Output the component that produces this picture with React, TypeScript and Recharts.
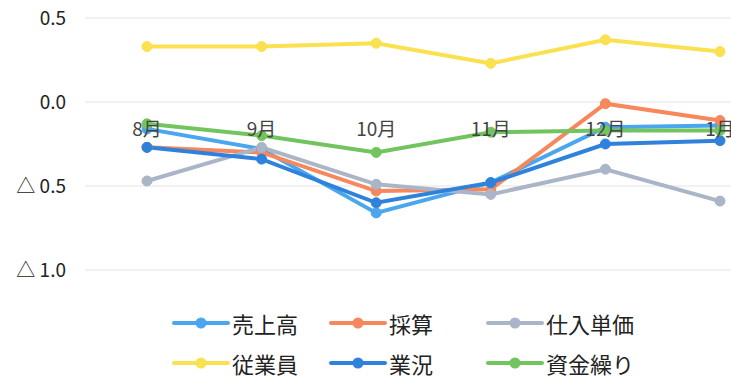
import React from 'react';
import { LineChart, Line, XAxis, YAxis, CartesianGrid, ReferenceDot } from 'recharts';

const months = ['8月', '9月', '10月', '11月', '12月', '1月'];

const uriage = [-0.16, -0.28, -0.66, -0.48, -0.15, -0.14];
const saisan = [-0.27, -0.30, -0.53, -0.52, -0.01, -0.11];
const shiire = [-0.47, -0.27, -0.49, -0.55, -0.40, -0.59];
const jugyoin = [0.33, 0.33, 0.35, 0.23, 0.37, 0.30];
const gyokyo = [-0.27, -0.34, -0.60, -0.48, -0.25, -0.23];
const shikin = [-0.13, -0.20, -0.30, -0.18, -0.17, -0.17];

const yTicks = [0.5, 0, -0.5, -1.0];

const series = [
    { key: 'uriage', name: '売上高', color: '#4aa6ee', values: uriage },
    { key: 'saisan', name: '採算', color: '#f7875c', values: saisan },
    { key: 'shiire', name: '仕入単価', color: '#aab5c8', values: shiire },
    { key: 'jugyoin', name: '従業員', color: '#fbe04f', values: jugyoin },
    { key: 'gyokyo', name: '業況', color: '#2f82dc', values: gyokyo },
    { key: 'shikin', name: '資金繰り', color: '#72c45e', values: shikin },
];

const data = months.map((m, i) => {
    const row: Record<string, string | number> = { month: m };
    series.forEach((s) => { row[s.key] = s.values[i]; });
    return row;
});

const font = '"Noto Sans CJK JP", "Noto Sans", sans-serif';

const fmtY = (v: number) => (v < 0 ? `△ ${Math.abs(v).toFixed(1)}` : v.toFixed(1));

const LegendItem = ({ name, color }: { name: string; color: string }) => (
    <div style={{ display: 'flex', alignItems: 'center', width: 157 }}>
        <svg width={58} height={14} style={{ marginRight: 2 }}>
            <line x1={2} y1={7} x2={56} y2={7} stroke={color} strokeWidth={4} strokeLinecap="round" />
            <circle cx={29} cy={7} r={5.5} fill={color} />
        </svg>
        <span style={{ fontSize: 22, lineHeight: 1, color: '#222' }}>{name}</span>
    </div>
);

const App: React.FC = () => {
    const rows = [series.slice(0, 3), series.slice(3, 6)];
    return (
        <div style={{ position: 'absolute', left: 0, top: 0, width: 731, height: 381, background: '#fff', fontFamily: font, overflow: 'hidden' }}>
            <LineChart width={731} height={290} data={data} margin={{ top: 18, right: 0, left: 0, bottom: 20 }}>
                <CartesianGrid horizontal vertical={false} stroke="#ececec" strokeWidth={1.5} />
                <XAxis dataKey="month" hide scale="point" padding={{ left: 62, right: 11 }} />
                <YAxis
                    width={85}
                    domain={[-1, 0.5]}
                    ticks={yTicks}
                    axisLine={false}
                    tickLine={false}
                    tickSize={0}
                    tickMargin={19}
                    tickFormatter={fmtY}
                    tick={{ fontSize: 19, fill: '#222', fontFamily: font }}
                />
                {months.map((m) => (
                    <ReferenceDot
                        key={m}
                        x={m}
                        y={0}
                        r={0}
                        fill="none"
                        stroke="none"
                        ifOverflow="visible"
                        label={{ value: m, position: 'bottom', offset: 21, fontSize: 19, fill: '#444', fontFamily: font }}
                    />
                ))}
                {series.map((s) => (
                    <Line
                        key={s.key}
                        dataKey={s.key}
                        name={s.name}
                        type="linear"
                        stroke={s.color}
                        strokeWidth={4}
                        dot={{ r: 5, fill: s.color, stroke: s.color, strokeWidth: 1 }}
                        isAnimationActive={false}
                    />
                ))}
            </LineChart>
            <div style={{ position: 'absolute', left: 172, top: 303 }}>
                {rows.map((r, i) => (
                    <div key={i} style={{ display: 'flex', height: 40, alignItems: 'center' }}>
                        {r.map((s) => <LegendItem key={s.key} name={s.name} color={s.color} />)}
                    </div>
                ))}
            </div>
        </div>
    );
};

export default App;
